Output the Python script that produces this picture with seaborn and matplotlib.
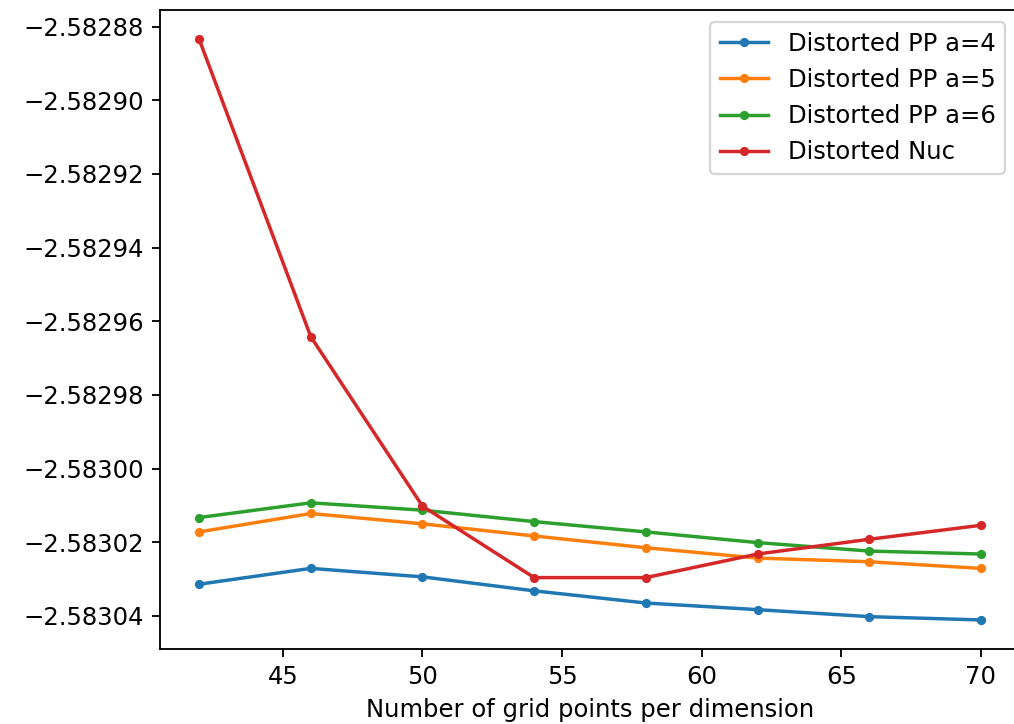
import numpy as np
import matplotlib
matplotlib.use("Agg")
import matplotlib.pyplot as plt
import pandas as pd
import seaborn as sns

# grid sizes and energies
grid_points = [42, 46, 50, 54, 58, 62, 66, 70]
pp_a4 = [-2.5830314, -2.5830271, -2.5830294, -2.5830332, -2.5830365, -2.5830383, -2.5830402, -2.5830411]
pp_a5 = [-2.5830172, -2.5830122, -2.5830150, -2.5830183, -2.5830215, -2.5830243, -2.5830253, -2.5830271]
pp_a6 = [-2.5830133, -2.5830093, -2.5830113, -2.5830144, -2.5830172, -2.5830201, -2.5830224, -2.5830232]
nuc = [-2.5828834, -2.5829642, -2.5830102, -2.5830296, -2.5830296, -2.5830232, -2.5830192, -2.5830154]
labels = ["Distorted PP a=4", "Distorted PP a=5", "Distorted PP a=6", "Distorted Nuc"]

plt.rcParams["font.size"] = 10.5

dpi = 166
fig = plt.figure(figsize=(1015 / dpi, 724 / dpi), dpi=dpi)
# right spine sits just past the image edge, as in the cropped original
ax = fig.add_axes([160 / 1015, 1 - 649 / 724, (1020 - 160) / 1015, (649 - 10) / 724])

colors = sns.color_palette("tab10")
for i, (lab, vals) in enumerate(zip(labels, [pp_a4, pp_a5, pp_a6, nuc])):
    df = pd.DataFrame({"n": grid_points, "E": vals})
    sns.lineplot(data=df, x="n", y="E", ax=ax, color=colors[i], label=lab,
                 marker="o", markersize=4, markeredgewidth=0, linewidth=1.5)

ax.yaxis.get_major_formatter().set_useOffset(False)
ax.set_xlabel("Number of grid points per dimension")
ax.set_ylabel("")
ax.legend(loc="upper right", bbox_to_anchor=(0.997, 1.0))

fig.savefig("out.png", dpi=dpi)
